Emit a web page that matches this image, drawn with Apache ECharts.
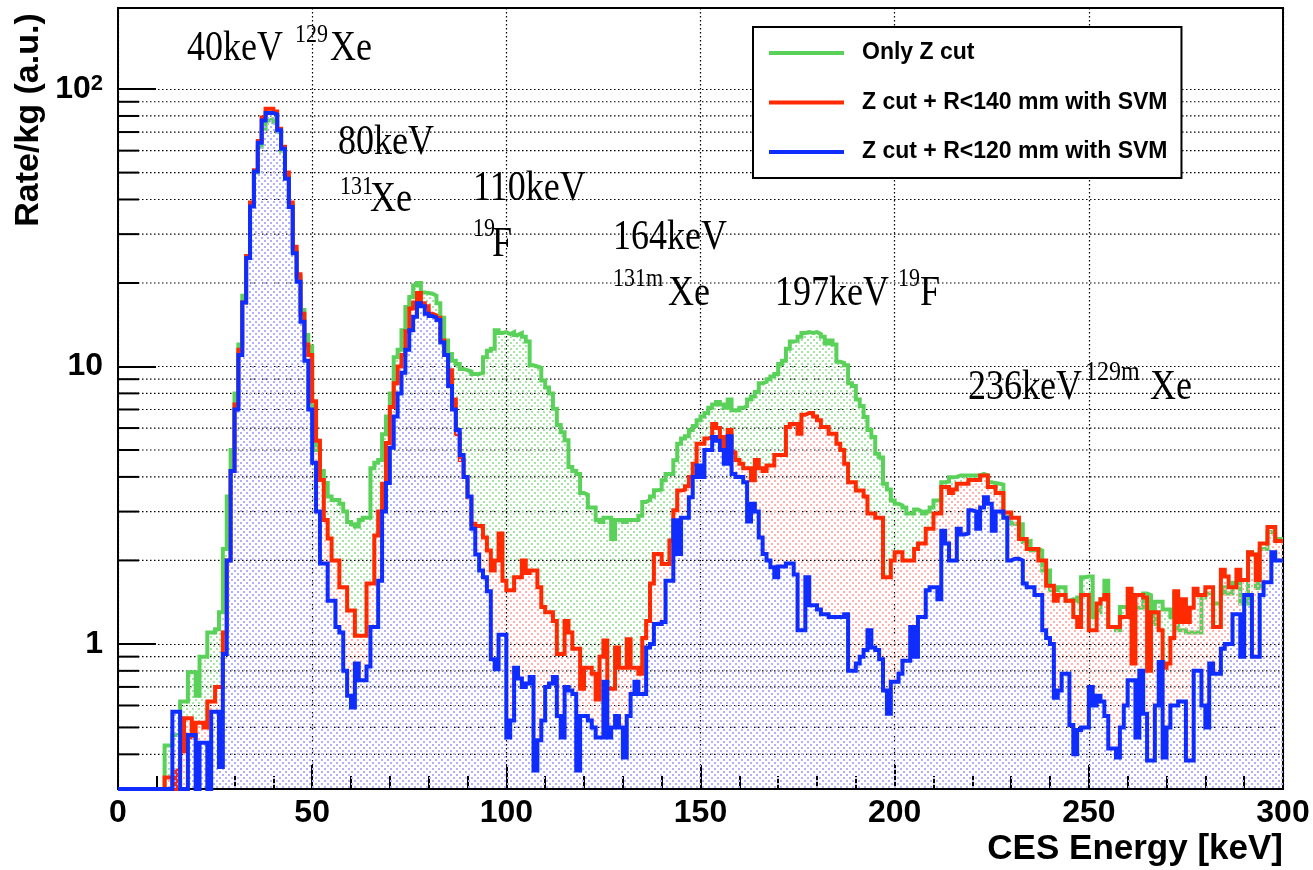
<!DOCTYPE html>
<html>
<head>
<meta charset="utf-8">
<script src="https://cdn.jsdelivr.net/npm/echarts@6/dist/echarts.min.js"></script>
<style>
html,body{margin:0;padding:0;background:#ffffff;}
#chart{width:1313px;height:870px;}
</style>
</head>
<body>
<div id="chart"></div>
<script>
// ---------------- data ----------------
const X_MIN = 0, X_MAX = 300, BIN_W = 1;      // 1 keV bins, 0..300 keV
const Y_MIN = 0.3, Y_MAX = 196;

const SERIES_NAMES = ['Only Z cut', 'Z cut + R<140 mm with SVM', 'Z cut + R<120 mm with SVM'];
const SERIES_COLORS = ['#5ad25a', '#ff2a00', '#0f2dff'];
const DOT_COLORS = ['#a6e4a6', '#ffb0b0', '#b0b0ff'];

const X_TICKS = [0, 50, 100, 150, 200, 250, 300];
const Y_MAJOR = [1, 10, 100];
const Y_MINOR = [0.4, 0.5, 0.6, 0.7, 0.8, 0.9, 2, 3, 4, 5, 6, 7, 8, 9, 20, 30, 40, 50, 60, 70, 80, 90];

// Rate/kg per 1 keV bin (bin i covers [i, i+1) keV)
const ONLY_Z = [
  0, 0, 0, 0, 0, 0, 0, 0, 0, 0,
  0, 0, 0.43, 0.43, 0.47, 0.47, 0.62, 0.62, 0.79, 0.79,
  0.65, 0.9, 0.9, 1.1, 1.1, 1.13, 1.3, 2.2, 3.4, 5.0,
  8.0, 12, 18, 25, 38, 50, 62, 72, 77, 78,
  76, 70, 60, 48, 38, 26, 21, 16, 13, 11.8,
  6.5, 5.0, 4.2, 3.8, 3.4, 3.3, 3.3, 3.2, 3.0, 2.75,
  2.7, 2.65, 2.8, 2.85, 2.85, 4.3, 4.5, 4.6, 5.7, 6.6,
  8.0, 10.8, 11.5, 13.5, 16.4, 17.8, 19.6, 20, 18.5, 18.4,
  18.3, 18.0, 16.9, 15, 12.4, 11.1, 10.5, 10.2, 9.8, 9.7,
  9.6, 9.4, 9.4, 9.5, 10.8, 11.4, 11.6, 13.5, 13.2, 13.3,
  13.1, 13.3, 13.0, 13.2, 12.8, 12.3, 10.1, 10.0, 9.9, 8.9,
  8.4, 8.0, 7.05, 6.15, 5.8, 5.42, 4.34, 4.2, 4.1, 3.5,
  3.45, 3.1, 3.1, 2.8, 2.75, 2.85, 2.85, 2.39, 2.8, 2.8,
  2.75, 2.8, 2.8, 2.8, 2.9, 3.25, 3.3, 3.4, 3.58, 3.6,
  3.89, 4.1, 4.1, 4.59, 5.27, 5.5, 5.6, 5.9, 6.1, 6.4,
  6.6, 6.8, 7.1, 7.3, 7.45, 7.3, 7.1, 7.6, 6.95, 6.95,
  7.1, 7.2, 7.6, 7.8, 8.1, 8.7, 8.8, 9.0, 9.2, 9.4,
  10.2, 10.5, 11.6, 12.3, 12.4, 12.8, 13.2, 13.3, 13.2, 13.3,
  13.1, 12.8, 12.1, 12.4, 12.0, 10.4, 10.3, 10.1, 8.7, 8.5,
  7.6, 7.2, 6.58, 5.9, 5.57, 4.85, 4.7, 3.78, 3.6, 3.29,
  3.2, 3.16, 3.1, 2.95, 2.95, 3.05, 3.0, 2.95, 3.0, 3.1,
  3.29, 3.3, 3.83, 3.85, 3.99, 4.0, 4.05, 4.05, 4.05, 4.05,
  4.05, 4.05, 4.1, 4.05, 3.83, 3.8, 3.78, 3.75, 2.86, 2.9,
  2.71, 2.7, 2.7, 2.33, 2.35, 2.17, 2.2, 2.17, 1.84, 1.84,
  1.56, 1.56, 1.6, 1.6, 1.43, 1.45, 1.43, 1.47, 1.74, 1.75,
  1.75, 1.25, 1.3, 1.45, 1.69, 1.15, 1.15, 1.12, 1.36, 1.36,
  1.38, 1.38, 1.35, 1.35, 1.52, 1.5, 1.18, 1.42, 1.42, 1.33,
  1.33, 1.25, 1.52, 1.12, 1.12, 1.1, 1.1, 1.1, 1.1, 1.47,
  1.52, 1.52, 1.4, 1.4, 1.6, 1.52, 1.52, 1.66, 1.66, 1.4,
  1.4, 2.14, 2.1, 1.59, 2.2, 2.2, 2.53, 2.5, 2.39, 2.39
];

const R140_SVM = [
  0, 0, 0, 0, 0, 0, 0, 0, 0, 0,
  0, 0, 0.33, 0.33, 0.3, 0.35, 0.41, 0.54, 0.54, 0.46,
  0.52, 0.52, 0.5, 0.62, 0.62, 0.7, 0.7, 1.1, 2.0, 4.2,
  7.3, 11.5, 17, 25, 39, 51, 65, 79, 85, 85,
  83, 72, 62, 50, 39, 27, 21.5, 15.5, 12, 11,
  7.5, 5.4, 3.9, 2.8, 2.4, 2.0, 2.0, 1.6, 1.6, 1.32,
  1.32, 1.07, 1.07, 1.07, 1.65, 1.65, 2.46, 3.0, 3.78, 5.3,
  7.14, 8.7, 10, 11, 13.4, 16.2, 17, 18.4, 16.9, 16.5,
  15.5, 15.3, 15, 12.4, 11, 9.7, 7.6, 5.7, 4.6, 4.0,
  3.38, 2.71, 2.66, 2.66, 2.42, 2.17, 1.84, 2.0, 2.5, 1.69,
  1.56, 1.56, 1.74, 1.74, 2.0, 1.8, 1.84, 1.84, 1.6, 1.36,
  1.3, 1.3, 1.21, 0.92, 0.92, 1.21, 1.1, 0.96, 0.96, 0.69,
  0.82, 0.82, 0.78, 0.63, 0.9, 1.03, 0.69, 0.69, 0.97, 0.82,
  0.82, 1.04, 0.82, 0.82, 0.78, 1.05, 1.21, 1.65, 2.11, 2.11,
  1.94, 1.94, 2.36, 3.03, 3.57, 3.6, 3.7, 4.0, 4.46, 5.27,
  5.27, 5.5, 5.57, 6.2, 6.0, 5.57, 5.0, 5.9, 4.9, 4.6,
  4.46, 4.3, 4.3, 3.89, 4.6, 4.3, 4.2, 4.4, 4.4, 4.8,
  4.8, 4.8, 6.05, 6.2, 6.2, 5.72, 6.7, 6.8, 6.8, 6.6,
  6.4, 6.05, 6.05, 5.72, 5.72, 5.27, 5.0, 4.46, 3.83, 3.83,
  3.57, 3.57, 3.4, 2.95, 2.95, 2.85, 2.85, 1.74, 1.74, 2.0,
  2.14, 2.14, 2.0, 2.0, 2.0, 2.2, 2.3, 2.3, 2.6, 2.6,
  2.95, 2.95, 3.68, 3.68, 3.5, 3.6, 3.78, 3.78, 3.78, 3.9,
  3.9, 3.9, 4.05, 4.05, 3.68, 3.68, 3.5, 3.5, 2.98, 2.98,
  2.85, 2.85, 2.39, 2.39, 2.2, 2.2, 2.2, 2.0, 2.0, 1.62,
  1.62, 1.43, 1.5, 1.5, 1.43, 1.43, 1.25, 1.15, 1.5, 1.5,
  1.12, 1.12, 1.4, 1.45, 1.5, 1.15, 1.15, 1.15, 1.25, 1.25,
  1.58, 0.85, 1.5, 1.5, 1.47, 0.8, 1.3, 1.3, 1.12, 0.82,
  0.85, 1.05, 1.55, 1.2, 1.45, 1.2, 1.35, 1.58, 1.5, 1.5,
  1.6, 1.6, 1.15, 1.15, 1.85, 1.75, 1.6, 1.6, 1.85, 1.7,
  1.7, 2.14, 2.1, 1.7, 2.3, 2.3, 2.64, 2.64, 2.35, 2.35
];

const R120_SVM = [
  0, 0, 0, 0, 0, 0, 0, 0, 0, 0,
  0, 0, 0, 0, 0.57, 0.57, 0, 0, 0.47, 0.47,
  0, 0.44, 0.44, 0, 0.57, 0.57, 0.36, 0.92, 2.0, 4.2,
  7.0, 11, 17, 24.6, 37.7, 50.5, 64, 77, 82, 82,
  81, 71, 61, 47.5, 37.6, 25.6, 20.2, 14.5, 10.5, 7.0,
  4.5, 3.0, 1.95, 1.95, 1.43, 1.43, 1.15, 1.1, 0.8, 0.65,
  0.59, 0.85, 0.74, 0.74, 0.83, 1.15, 1.15, 1.69, 3.0, 3.8,
  5.1, 6.6, 8.0, 9.5, 11.5, 13.5, 15.1, 16.9, 16.5, 15.5,
  15.2, 15.0, 14.7, 12.2, 11.0, 8.5, 7.0, 5.9, 4.8, 4.0,
  3.4, 2.6, 2.1, 1.84, 1.74, 1.55, 0.88, 0.81, 1.08, 1.08,
  0.46, 0.53, 0.82, 0.75, 0.7, 0.72, 0.76, 0.35, 0.45, 0.53,
  0.7, 0.72, 0.76, 0.55, 0.46, 0.7, 0.68, 0.66, 0.35, 0.55,
  0.55, 0.53, 0.5, 0.46, 0.46, 0.73, 0.46, 0.5, 0.55, 0.5,
  0.39, 0.55, 0.66, 0.73, 0.66, 0.66, 0.97, 1.0, 1.18, 1.18,
  1.2, 1.69, 1.69, 2.79, 2.11, 2.85, 2.85, 3.38, 4.0, 4.4,
  4.0, 5.0, 5.0, 5.57, 5.4, 5.0, 4.46, 5.6, 4.1, 4.0,
  4.0, 3.83, 2.76, 3.2, 3.0, 2.42, 2.11, 2.0, 1.89, 1.74,
  1.9, 1.9, 1.95, 1.95, 1.78, 1.12, 1.12, 1.74, 1.38, 1.38,
  1.33, 1.28, 1.28, 1.25, 1.25, 1.25, 1.25, 1.28, 0.8, 0.8,
  0.85, 0.9, 0.95, 1.12, 0.97, 0.95, 0.88, 0.68, 0.56, 0.73,
  0.73, 0.78, 0.87, 0.87, 1.15, 0.9, 1.25, 1.25, 1.56, 1.6,
  1.6, 1.45, 2.56, 2.3, 2.0, 2.0, 2.6, 2.48, 2.5, 3.03,
  3.0, 2.6, 3.1, 3.38, 3.2, 2.56, 3.0, 3.0, 2.85, 2.0,
  2.03, 2.03, 2.0, 1.65, 1.6, 1.6, 1.5, 1.5, 1.12, 1.05,
  1.0, 0.64, 0.68, 0.78, 0.78, 0.51, 0.4, 0.49, 0.5, 0.5,
  0.7, 0.6, 0.65, 0.62, 0.55, 0.42, 0.42, 0.39, 0.5, 0.6,
  0.74, 0.74, 0.46, 0.8, 0.56, 0.38, 0.38, 0.6, 0.86, 0.39,
  0.5, 0.6, 0.6, 0.62, 0.62, 0.38, 0.38, 0.8, 0.8, 0.6,
  0.5, 0.85, 0.78, 0.78, 0.96, 1.0, 1.0, 1.28, 1.28, 0.9,
  1.5, 1.5, 0.9, 0.9, 1.5, 1.67, 1.67, 2.14, 2.0, 2.0
];

// ---------------- helpers ----------------
function stepData(vals) {
  // histogram bins drawn as steps; empty / below-range bins sit on the axis floor
  const d = vals.map((v, i) => [X_MIN + i * BIN_W, Math.max(v, Y_MIN)]);
  d.push([X_MAX, Math.max(vals[vals.length - 1], Y_MIN)]);
  return d;
}
function dotPattern(color) {
  const c = document.createElement('canvas');
  c.width = 6; c.height = 6;
  const g = c.getContext('2d');
  g.fillStyle = color;
  g.fillRect(0, 0, 2, 2);
  g.fillRect(3, 3, 2, 2);
  return c;
}

const SANS = '"Liberation Sans", Arial, Helvetica, sans-serif';
const SERIF = '"Liberation Serif", "Times New Roman", serif';
const GRID_DOT = { color: '#000', width: 1.2, type: [1.5, 2.5] };

const HISTS = [ONLY_Z, R140_SVM, R120_SVM];

const series = HISTS.map((vals, k) => ({
  type: 'line',
  name: SERIES_NAMES[k],
  data: stepData(vals),
  step: 'end',
  symbol: 'none',
  showSymbol: false,
  clip: true,
  z: 3 + k,
  lineStyle: { color: SERIES_COLORS[k], width: 4, join: 'miter', cap: 'butt' },
  itemStyle: { color: SERIES_COLORS[k] },
  areaStyle: { origin: 'start', opacity: 1, color: { image: dotPattern(DOT_COLORS[k]), repeat: 'repeat' } },
  emphasis: { disabled: true },
  animation: false
}));

// minor log ticks + dotted grid lines, placed through the axis scales
series.push({
  type: 'custom',
  name: 'minorTicks',
  coordinateSystem: 'cartesian2d',
  data: Y_MINOR.map(v => [X_MIN, v]),
  z: 1,
  silent: true,
  animation: false,
  renderItem: function (params, api) {
    const v = api.value(1);
    const p0 = api.coord([X_MIN, v]);
    const p1 = api.coord([X_MAX, v]);
    return {
      type: 'group',
      children: [
        { type: 'line', shape: { x1: p0[0], y1: p0[1], x2: p1[0], y2: p1[1] },
          style: { stroke: '#000', lineWidth: GRID_DOT.width, lineDash: GRID_DOT.type } },
        { type: 'line', shape: { x1: p0[0], y1: p0[1], x2: p0[0] + 21, y2: p0[1] },
          style: { stroke: '#000', lineWidth: 2 } }
      ]
    };
  }
});

function ann(x, y, text, size) {
  return {
    type: 'text', x: x, y: y, scaleY: 1.15, silent: true, z: 50,
    style: { text: text, font: size + 'px ' + SERIF, fill: '#000', align: 'left', verticalAlign: 'middle' }
  };
}

const option = {
  backgroundColor: '#ffffff',
  animation: false,
  grid: { left: 118, right: 30, top: 8, bottom: 81, show: true, borderColor: '#000', borderWidth: 2, backgroundColor: 'transparent' },
  xAxis: {
    type: 'value', min: X_MIN, max: X_MAX, interval: 50,
    axisLine: { show: true, onZero: false, lineStyle: { color: '#000', width: 2 } },
    axisTick: { show: true, inside: true, length: 24, lineStyle: { color: '#000', width: 2 } },
    minorTick: { show: true, splitNumber: 5, length: 13, lineStyle: { color: '#000', width: 2 } },
    splitLine: { show: true, lineStyle: GRID_DOT },
    axisLabel: {
      margin: 8, color: '#000', fontFamily: SANS, fontWeight: 'bold', fontSize: 32,
      customValues: X_TICKS,
      formatter: v => String(v)
    }
  },
  yAxis: {
    type: 'log', logBase: 10, min: Y_MIN, max: Y_MAX,
    axisLine: { show: true, lineStyle: { color: '#000', width: 2 } },
    axisTick: { show: true, inside: true, length: 38, lineStyle: { color: '#000', width: 2 } },
    splitLine: { show: true, lineStyle: GRID_DOT },
    axisLabel: {
      showMinLabel: false, showMaxLabel: false, margin: 15, color: '#000',
      fontFamily: SANS, fontWeight: 'bold', fontSize: 32,
      formatter: function (v) {
        const e = Math.round(Math.log10(v));
        if (Math.abs(Math.log10(v) - e) > 1e-6) return '';
        if (!Y_MAJOR.includes(Math.pow(10, e))) return '';
        if (e === 0) return '{b|1}';
        if (e === 1) return '{b|10}';
        return '{b|10}{s|' + e + '}';
      },
      rich: {
        b: { fontFamily: SANS, fontWeight: 'bold', fontSize: 32, color: '#000' },
        s: { fontFamily: SANS, fontWeight: 'bold', fontSize: 22, color: '#000', verticalAlign: 'top' }
      }
    }
  },
  legend: {
    orient: 'vertical', left: 753, top: 27,
    data: SERIES_NAMES.map((n, k) => ({ name: n, itemStyle: { color: SERIES_COLORS[k], borderWidth: 0 } })),
    icon: 'rect', itemWidth: 75, itemHeight: 4, itemGap: 25.5,
    padding: [14, 14, 14, 16],
    borderColor: '#000', borderWidth: 2, backgroundColor: '#fff',
    selectedMode: false,
    textStyle: { fontFamily: SANS, fontWeight: 'bold', fontSize: 23, color: '#000', lineHeight: 24, padding: [0, 0, 0, 13] }
  },
  graphic: [
    { type: 'text', x: 29, y: 120, rotation: Math.PI / 2, silent: true,
      style: { text: 'Rate/kg (a.u.)', font: 'bold 34px ' + SANS, fill: '#000', align: 'center', verticalAlign: 'middle' } },
    { type: 'text', x: 1283, y: 849, silent: true,
      style: { text: 'CES Energy [keV]', font: 'bold 35px ' + SANS, fill: '#000', align: 'right', verticalAlign: 'middle' } },
    ann(187, 49, '40keV', 36), ann(295, 35, '129', 22), ann(330, 49, 'Xe', 36),
    ann(338, 143, '80keV', 36),
    ann(340, 187, '131', 22), ann(370, 200, 'Xe', 36),
    ann(473, 189, '110keV', 36),
    ann(473, 229, '19', 22), ann(492, 245, 'F', 36),
    ann(613, 238, '164keV', 36),
    ann(613, 279, '131m', 22), ann(668, 294, 'Xe', 36),
    ann(775, 294, '197keV', 36), ann(898, 279, '19', 22), ann(920, 294, 'F', 36),
    ann(968, 388, '236keV', 36), ann(1085, 373, '129m', 24), ann(1150, 388, 'Xe', 36)
  ],
  series: series
};

const chart = echarts.init(document.getElementById('chart'), null, { renderer: 'canvas' });
chart.setOption(option);
</script>
</body>
</html>
